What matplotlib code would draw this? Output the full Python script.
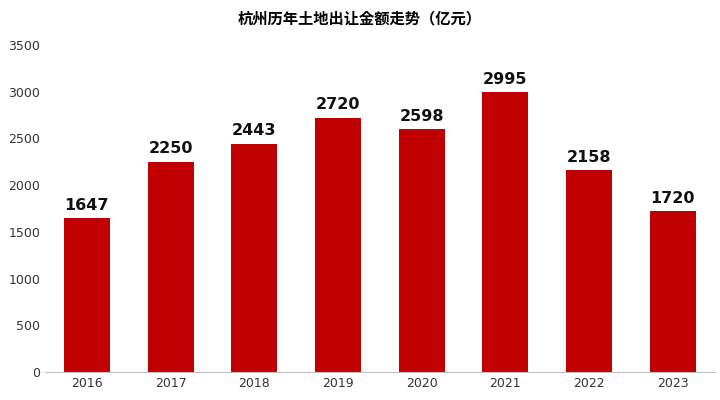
import matplotlib
matplotlib.use("Agg")
import matplotlib.pyplot as plt
from matplotlib import font_manager as fm

years = ["2016", "2017", "2018", "2019", "2020", "2021", "2022", "2023"]
values = [1647, 2250, 2443, 2720, 2598, 2995, 2158, 1720]
yticks = [0, 500, 1000, 1500, 2000, 2500, 3000, 3500]
title = "杭州历年土地出让金额走势（亿元）"

fonts = [f for f in fm.findSystemFonts() if "CJK" in f and "Serif" not in f]
bold = [f for f in fonts if "Bold" in f]
cjk = (bold or fonts or [None])[0]
tprop = fm.FontProperties(fname=cjk, size=11, weight="bold") if cjk else fm.FontProperties(family="Noto Sans CJK SC", size=11, weight="bold")

fig = plt.figure(figsize=(7.2, 4.0), dpi=100)
ax = fig.add_axes([0.0625, 0.07, 0.93, 0.8175])
x = range(len(years))
ax.bar(x, values, width=0.55, color="#C00000")
for xi, v in zip(x, values):
    ax.text(xi, v + 60, str(v), ha="center", va="bottom", fontsize=11.5, fontweight="bold", color="#111111")
ax.set_xticks(list(x))
ax.set_xticklabels(years, fontsize=9)
ax.set_yticks(yticks)
ax.set_yticklabels([str(t) for t in yticks], fontsize=9)
ax.set_ylim(0, 3500)
ax.set_xlim(-0.5, len(years) - 0.5)
for s in ["top", "right", "left"]:
    ax.spines[s].set_visible(False)
ax.spines["bottom"].set_color("#BFBFBF")
ax.tick_params(axis="both", length=0, colors="#333333")
fig.text(0.5, 0.955, title, ha="center", va="center", fontproperties=tprop)
fig.savefig("out.png", dpi=100)
